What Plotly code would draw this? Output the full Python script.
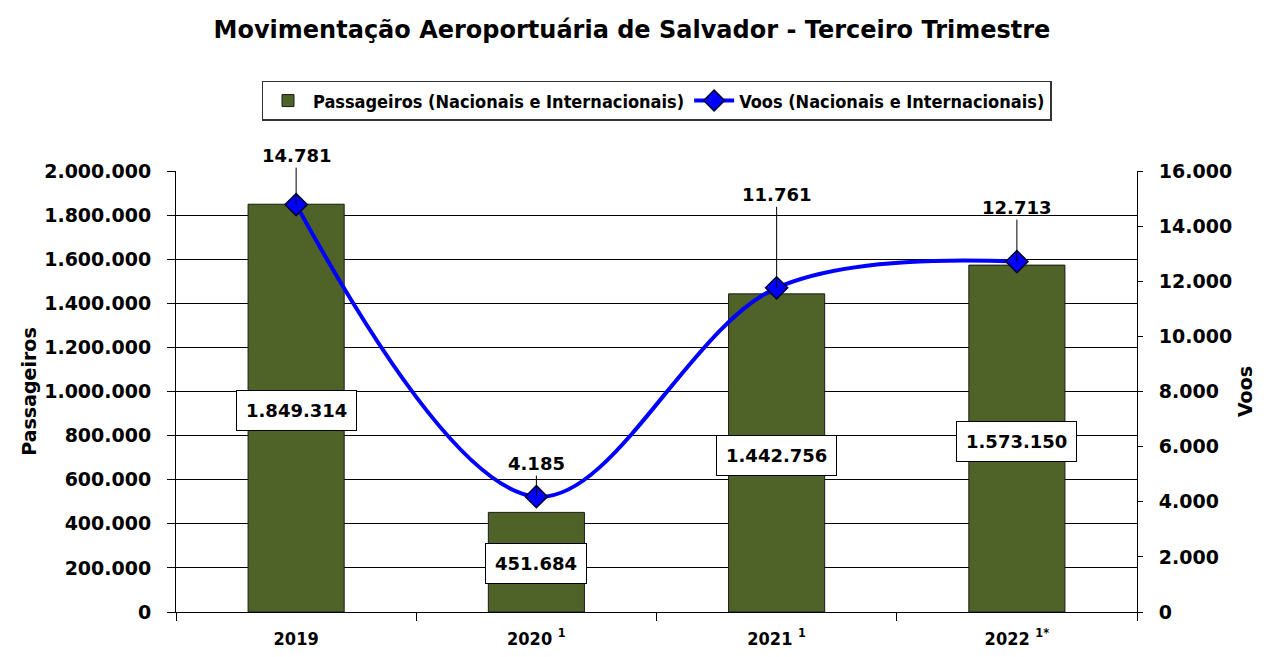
import plotly.graph_objects as go

categories = ["2019", "2020", "2021", "2022"]
tick_labels = ["2019", "2020 <sup>1</sup>", "2021 <sup>1</sup>", "2022 <sup>1*</sup>"]
passageiros = [1849314, 451684, 1442756, 1573150]
voos = [14781, 4185, 11761, 12713]
pass_labels = ["1.849.314", "451.684", "1.442.756", "1.573.150"]
voos_labels = ["14.781", "4.185", "11.761", "12.713"]
# label positions (data units) for passenger boxes
pass_label_y = [916000, 222000, 712000, 775000]
voos_label_offset = [-49, -33, -93, -54]

BOLD = "DejaVu Sans"
COND = "DejaVu Sans Condensed, DejaVu Sans"
TITLE = "DejaVu Sans"

fig = go.Figure()
fig.add_trace(go.Bar(
    x=categories, y=passageiros, name="Passageiros (Nacionais e Internacionais)",
    marker=dict(color="#4f6228", line=dict(color="#1a1a1a", width=1)),
    width=0.4, yaxis="y",
))
fig.add_trace(go.Scatter(
    x=categories, y=voos, name="Voos (Nacionais e Internacionais)",
    mode="lines+markers", yaxis="y2",
    line=dict(color="#0000ff", width=4, shape="spline", smoothing=1.0),
    marker=dict(symbol="diamond", size=17, color="#0000ff", line=dict(color="#000033", width=1.5)),
))

annotations = []
for i, (lab, ly) in enumerate(zip(pass_labels, pass_label_y)):
    annotations.append(dict(
        x=i, y=ly, xref="x", yref="y", text=lab, showarrow=False,
        font=dict(family=BOLD, size=18, color="black", weight="bold"),
        bgcolor="white", bordercolor="black", borderwidth=1, borderpad=9,
    ))
for i, (v, lab, off) in enumerate(zip(voos, voos_labels, voos_label_offset)):
    annotations.append(dict(
        x=i, y=v, xref="x", yref="y2", text=lab, showarrow=True,
        arrowhead=0, arrowwidth=1, arrowcolor="black", ax=0, ay=off,
        standoff=0, font=dict(family=BOLD, size=18, color="black", weight="bold"),
    ))

fig.update_layout(
    width=1248, height=641,
    paper_bgcolor="white", plot_bgcolor="white",
    separators=",.",
    margin=dict(l=168, r=119, t=163, b=37, autoexpand=False),
    title=dict(text="Movimentação Aeroportuária de Salvador - Terceiro Trimestre",
               x=0.5, xanchor="center", y=0.966, yanchor="middle",
               font=dict(family=TITLE, size=24, color="black", weight="bold")),
    showlegend=True,
    legend=dict(orientation="h", x=0.5, xanchor="center", y=1.159, yanchor="middle",
                bordercolor="#333333", borderwidth=1.5,
                font=dict(family=COND, size=18, color="black", weight="bold"),
                traceorder="normal", itemwidth=40),
    xaxis=dict(
        type="category",
        tickmode="array", tickvals=categories, ticktext=tick_labels,
        tickfont=dict(family=COND, size=18, color="black", weight="bold"),
        showline=True, linecolor="black", linewidth=1,
        ticks="outside", ticklen=8, tickcolor="black", tickson="boundaries",
        ticklabelstandoff=10,
        showgrid=False, range=[-0.5, 3.5],
    ),
    yaxis=dict(
        range=[0, 2000000], tickvals=list(range(0, 2000001, 200000)),
        tickformat=",d", automargin=False,
        tickfont=dict(family=BOLD, size=19, color="black", weight="bold"),
        ticklabelstandoff=12,
        title=dict(text="Passageiros", font=dict(family=BOLD, size=19, color="black", weight="bold"), standoff=2),
        showline=True, linecolor="black", linewidth=1, mirror=False,
        ticks="outside", ticklen=8, tickcolor="black",
        showgrid=True, gridcolor="black", gridwidth=1, zeroline=False,
    ),
    yaxis2=dict(
        range=[0, 16000], tickvals=list(range(0, 16001, 2000)),
        tickformat=",d", overlaying="y", side="right", automargin=False,
        tickfont=dict(family=BOLD, size=19, color="black", weight="bold"),
        ticklabelstandoff=12,
        title=dict(text="Voos", font=dict(family=BOLD, size=19, color="black", weight="bold"), standoff=12),
        showline=True, linecolor="black", linewidth=1,
        ticks="outside", ticklen=5, tickcolor="black",
        showgrid=False, zeroline=False,
    ),
    annotations=annotations,
)

fig.write_html("out.html")
